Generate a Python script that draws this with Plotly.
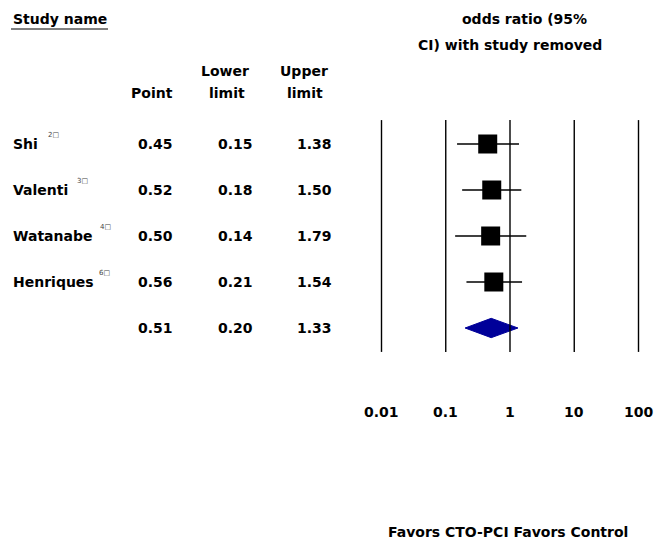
import math
import plotly.graph_objects as go

studies = ["Shi", "Valenti", "Watanabe", "Henriques"]
refs = ["2", "3", "4", "6"]
point = [0.45, 0.52, 0.50, 0.56]
lower = [0.15, 0.18, 0.14, 0.21]
upper = [1.38, 1.50, 1.79, 1.54]
summary_point = 0.51
summary_lower = 0.20
summary_upper = 1.33
tick_vals = [0.01, 0.1, 1, 10, 100]
tick_labels = ["0.01", "0.1", "1", "10", "100"]

W, H = 656, 539
FONT = "DejaVu Sans"
FS = 14

def px(x):
    return x / W

def py(y):
    return 1 - y / H

fig = go.Figure()

# CI lines
xs, ys = [], []
for i, (lo, hi) in enumerate(zip(lower, upper)):
    xs += [lo, hi, None]
    ys += [i, i, None]
fig.add_trace(go.Scatter(x=xs, y=ys, mode="lines", line=dict(color="black", width=1.4),
                         hoverinfo="skip", showlegend=False))
# squares
fig.add_trace(go.Scatter(x=point, y=list(range(len(point))), mode="markers",
                         marker=dict(symbol="square", size=19, color="black"),
                         showlegend=False))
# diamond
srow = len(point)
fig.add_trace(go.Scatter(x=[summary_lower, summary_point, summary_upper, summary_point, summary_lower],
                         y=[srow, srow - 0.21, srow, srow + 0.21, srow],
                         mode="lines", fill="toself", fillcolor="#000099",
                         line=dict(color="#000099", width=1), showlegend=False))

# vertical reference lines
for v in tick_vals:
    fig.add_shape(type="line", xref="x", yref="y", x0=v, x1=v, y0=-0.52, y1=srow + 0.52,
                  line=dict(color="black", width=1.4))

ann = []
def A(text, x, y, xanchor="center", size=FS, yref="paper", color="black"):
    ann.append(dict(text=text, x=x, y=y, xref="paper", yref=yref, xanchor=xanchor,
                    yanchor="middle", showarrow=False,
                    font=dict(family=FONT, size=size, color=color)))

# headers
A("<b>Study name</b>", px(11), py(19), "left")
A("<b>odds ratio (95%</b>", px(524), py(19))
A("<b>CI) with study removed</b>", px(510), py(45))
A("<b>Lower</b>", px(225), py(71))
A("<b>Upper</b>", px(304), py(71))
A("<b>Point</b>", px(175), py(93), "right")
A("<b>limit</b>", px(227), py(93))
A("<b>limit</b>", px(305), py(93))

sup_x = [46, 75, 98, 97]
for i, (s, r) in enumerate(zip(studies, refs)):
    A("<b>%s</b>" % s, px(11), i, "left", yref="y")
    ann.append(dict(text=r + "\u25A1", x=px(sup_x[i]), y=i - 0.2, xref="paper", yref="y",
                    xanchor="left", yanchor="middle", showarrow=False,
                    font=dict(family=FONT, size=7, color="#444")))
    A("<b>%.2f</b>" % point[i], px(175), i, "right", yref="y")
    A("<b>%.2f</b>" % lower[i], px(255), i, "right", yref="y")
    A("<b>%.2f</b>" % upper[i], px(334), i, "right", yref="y")
A("<b>%.2f</b>" % summary_point, px(175), srow, "right", yref="y")
A("<b>%.2f</b>" % summary_lower, px(255), srow, "right", yref="y")
A("<b>%.2f</b>" % summary_upper, px(334), srow, "right", yref="y")

for v, t in zip(tick_vals, tick_labels):
    ann.append(dict(text="<b>%s</b>" % t, x=math.log10(v), y=py(412), xref="x", yref="paper",
                    xanchor="center", yanchor="middle", showarrow=False,
                    font=dict(family=FONT, size=FS, color="black")))

A("<b>Favors CTO-PCI Favors Control</b>", px(508), py(532))

# underline for Study name
fig.add_shape(type="line", xref="paper", yref="paper", x0=px(11), x1=px(108),
              y0=py(29), y1=py(29), line=dict(color="black", width=1))

scale = 64.25
x0 = 510
fig.update_layout(
    width=W, height=H, margin=dict(l=0, r=0, t=0, b=0),
    paper_bgcolor="white", plot_bgcolor="white",
    xaxis=dict(type="log", range=[(0 - x0) / scale, (W - x0) / scale], visible=False, fixedrange=True),
    yaxis=dict(range=[(H - 144) / 46.0, -144 / 46.0], visible=False, fixedrange=True),
    annotations=ann, showlegend=False,
)
fig.write_html("out.html")
